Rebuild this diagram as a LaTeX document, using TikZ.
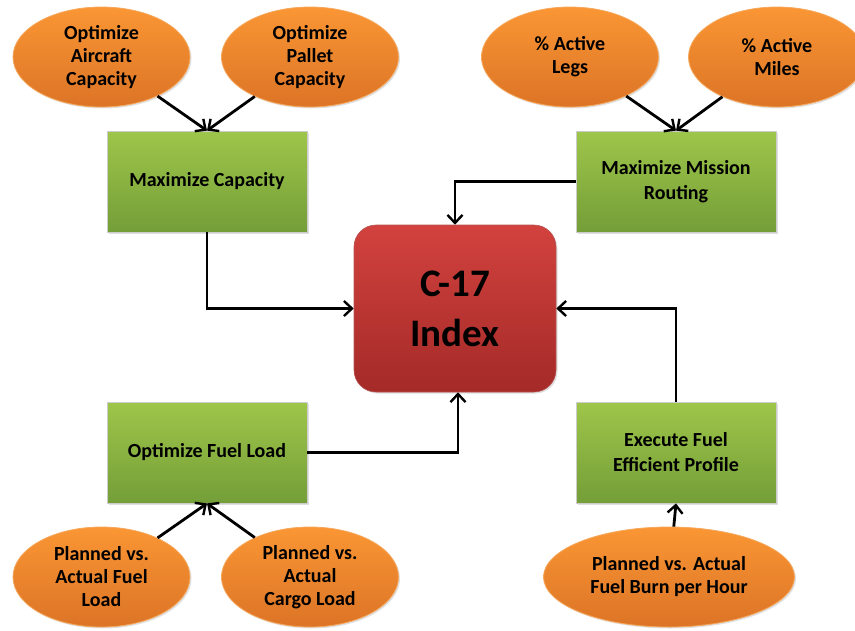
\documentclass[tikz,border=0pt]{standalone}
\usepackage{fontspec}
\setmainfont{Carlito}
\usepackage{tikz}
\usetikzlibrary{shapes.geometric,arrows.meta,shadows}
\definecolor{orangetop}{RGB}{250,150,52}
\definecolor{orangebot}{RGB}{220,116,38}
\definecolor{orangeline}{RGB}{246,168,92}
\definecolor{greentop}{RGB}{158,198,74}
\definecolor{greenbot}{RGB}{116,158,56}
\definecolor{redtop}{RGB}{210,66,62}
\definecolor{redbot}{RGB}{164,42,40}
\tikzset{
	softshadow/.style={drop shadow={opacity=0.25,shadow xshift=1.5pt,shadow yshift=-1.5pt}},
	metric/.style={ellipse,draw=orangeline,line width=0.8pt,top color=orangetop,
		bottom color=orangebot,minimum width=177pt,minimum height=100pt,inner sep=0pt,
		align=center,font=\bfseries\fontsize{20}{23}\selectfont,softshadow},
	goal/.style={rectangle,draw=black!20,line width=0.8pt,top color=greentop,
		bottom color=greenbot,minimum width=200pt,minimum height=101pt,inner sep=0pt,
		align=center,font=\bfseries\fontsize{20}{25}\selectfont,softshadow},
	index/.style={rectangle,rounded corners=22pt,draw=redbot!80,line width=0.6pt,
		top color=redtop,bottom color=redbot,minimum width=202pt,minimum height=167pt,
		align=center,font=\bfseries\fontsize{39}{50}\selectfont,softshadow},
	link/.style={-{Straight Barb[length=8pt,width=15pt,line width=2.4pt]},line width=2.8pt}
}

\begin{document}
\begin{tikzpicture}[x=1pt,y=-1pt]
	\useasboundingbox (0,0) rectangle (855,630);
	% top row
	\node[metric] (air) at (101.5,57) {Optimize\\Aircraft\\Capacity};
	\node[metric] (pal) at (310,57) {Optimize\\Pallet\\Capacity};
	\node[metric] (legs) at (570,57) {\% Active\\Legs};
	\node[metric] (miles) at (777,57) {\% Active\\Miles};
	\node[goal] (cap) at (207,181.5) {Maximize Capacity};
	\node[goal] (route) at (676,181.5) {Maximize Mission\\Routing};
	% centre
	\node[index] (c17) at (455,308.5) {C-17\\Index};
	% bottom row
	\node[goal] (fuel) at (207,452.5) {Optimize Fuel Load};
	\node[goal] (exec) at (676,452.5) {Execute Fuel\\Efficient Profile};
	\node[metric] (fload) at (101.5,577) {Planned vs.\\Actual Fuel\\Load};
	\node[metric] (cload) at (310,577) {Planned vs.\\Actual\\Cargo Load};
	\node[metric,minimum width=251pt] (burn) at (669,577) {Planned vs. Actual\\Fuel Burn per Hour};

	\path[link]
	(air) edge (cap.north)
	(pal) edge (cap.north)
	(legs) edge (route.north)
	(miles) edge (route.north)
	(fload) edge (fuel.south)
	(cload) edge (fuel.south)
	(burn) edge (exec.south);
	\draw[link] (cap.south) |- (c17.west);
	\draw[link] (route.west) -| (c17.north);
	\draw[link] (fuel.east) -| ([xshift=3pt]c17.south);
	\draw[link] (exec.north) |- (c17.east);
\end{tikzpicture}
\end{document}
